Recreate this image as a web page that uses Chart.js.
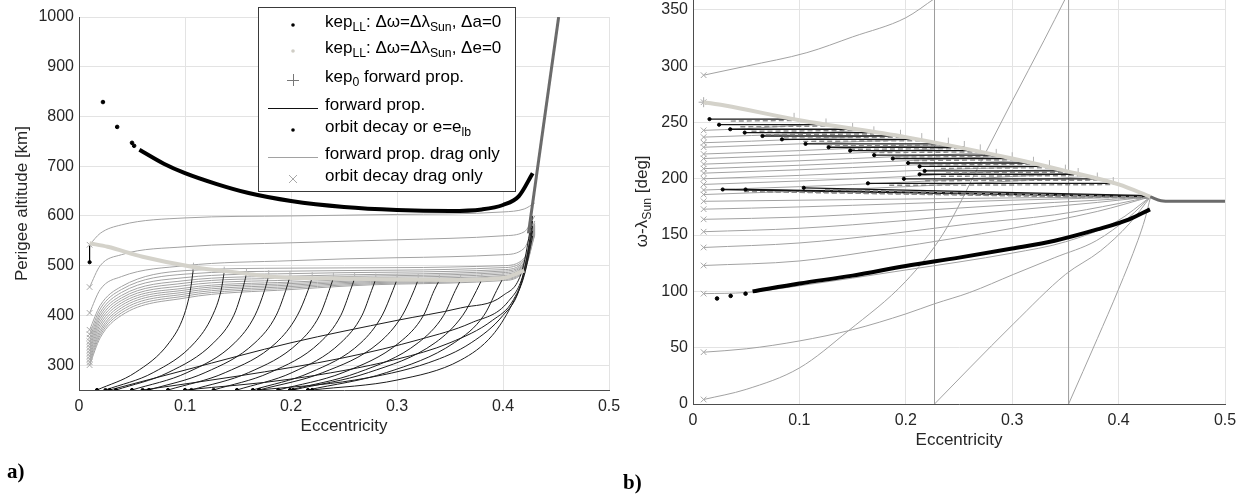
<!DOCTYPE html>
<html>
<head>
<meta charset="utf-8">
<script src="https://cdn.jsdelivr.net/npm/chart.js@4.4.0/dist/chart.umd.min.js"></script>
<style>
  body { margin: 0; background: #fff; width: 1249px; height: 498px; overflow: hidden; position: relative; }
  #chartA { position: absolute; left: 0; top: 0; }
  #chartB { position: absolute; left: 610px; top: -16px; }
  .tag { position: absolute; font: bold 21px "Liberation Serif", "DejaVu Serif", serif; line-height: 21px; color: #000; }
</style>
</head>
<body>
<canvas id="chartA" width="630" height="498"></canvas>
<canvas id="chartB" width="639" height="514"></canvas>
<div class="tag" style="left:7px; top:461px">a)</div>
<div class="tag" style="left:623px; top:472px">b)</div>
<script>
// ---------- shared ticks ----------
const eccTicks = [0, 0.1, 0.2, 0.3, 0.4, 0.5];
const altTicks = [300, 400, 500, 600, 700, 800, 900, 1000];
const angTicks = [0, 50, 100, 150, 200, 250, 300, 350];

// ---------- panel a) perigee altitude ----------
// kep_LL with da=0 (black): a few isolated points, then a dense run
const llaDotE = [0.0226, 0.036, 0.05, 0.052];
const llaDotH = [829, 779, 747, 741];
const llaE = [0.057, 0.08, 0.1, 0.13, 0.16, 0.2, 0.25, 0.3, 0.35, 0.38, 0.4, 0.415, 0.428];
const llaH = [733, 705, 686, 664, 646, 630, 618, 612, 610, 613, 622, 640, 686];

// kep_LL with de=0 (light grey)
const lleE = [0.01, 0.027, 0.06, 0.109, 0.154, 0.185, 0.25, 0.3, 0.35, 0.4, 0.42];
const lleH = [545, 538, 518, 497, 485, 477, 474, 472, 471, 475, 490];

// steep dark grey branch
const steepE = [0.424, 0.4525];
const steepH = [565, 1000];

// forward prop. drag only, sampled on a common eccentricity grid
const dragE = [0.01, 0.02, 0.04, 0.1, 0.2, 0.3, 0.4, 0.42, 0.43];
const dragH = [
  [542, 565, 582, 596, 600, 603, 608, 614, 626],
  [457, 500, 522, 538, 546, 552, 560, 568, 600],
  [405, 452, 478, 500, 510, 516, 522, 535, 590],
  [371, 420, 458, 490, 495, 496, 500, 515, 585],
  [362, 413, 452, 483, 489, 491, 496, 512, 582],
  [355, 406, 446, 476, 484, 487, 492, 509, 580],
  [348, 400, 440, 470, 479, 483, 489, 506, 578],
  [342, 394, 435, 465, 475, 480, 486, 504, 576],
  [336, 388, 430, 460, 471, 477, 483, 502, 574],
  [330, 382, 425, 455, 467, 474, 480, 500, 572],
  [324, 376, 420, 451, 464, 471, 478, 498, 570],
  [318, 370, 415, 447, 461, 469, 476, 496, 568],
  [312, 365, 410, 443, 458, 467, 474, 494, 566],
  [306, 360, 405, 439, 455, 465, 472, 492, 564],
  [300, 355, 400, 435, 452, 463, 470, 490, 562]
];

// forward prop. (black), S-shaped climbs ending on the kep_LL de=0 curve
const fwdCurves = [
  [[0.017, 250], [0.053, 285], [0.085, 345], [0.099, 400], [0.105, 450], [0.108, 495]],
  [[0.025, 250], [0.070, 285], [0.109, 345], [0.126, 400], [0.134, 450], [0.137, 487]],
  [[0.035, 250], [0.084, 285], [0.127, 345], [0.146, 400], [0.154, 450], [0.158, 483]],
  [[0.05, 250], [0.102, 285], [0.147, 345], [0.166, 400], [0.175, 450], [0.179, 480]],
  [[0.066, 250], [0.119, 285], [0.166, 345], [0.186, 400], [0.195, 450], [0.199, 478]],
  [[0.084, 250], [0.138, 285], [0.186, 345], [0.206, 400], [0.216, 450], [0.22, 476]],
  [[0.106, 250], [0.160, 285], [0.207, 345], [0.227, 400], [0.236, 450], [0.24, 475]],
  [[0.127, 250], [0.180, 285], [0.227, 345], [0.247, 400], [0.256, 450], [0.26, 474]],
  [[0.149, 250], [0.201, 285], [0.247, 345], [0.267, 400], [0.276, 450], [0.28, 473]],
  [[0.164, 250], [0.218, 285], [0.266, 345], [0.286, 400], [0.296, 450], [0.30, 472]],
  [[0.17, 250], [0.23, 285], [0.283, 345], [0.305, 400], [0.316, 450], [0.32, 472]],
  [[0.188, 250], [0.249, 285], [0.302, 345], [0.325, 400], [0.335, 450], [0.34, 471]],
  [[0.199, 250], [0.263, 285], [0.32, 345], [0.344, 400], [0.355, 450], [0.36, 471]],
  [[0.202, 250], [0.273, 285], [0.336, 345], [0.362, 400], [0.375, 450], [0.38, 472]],
  [[0.216, 250], [0.290, 285], [0.354, 345], [0.382, 400], [0.394, 450], [0.40, 475]]
];
// forward prop. (black), long shallow climbs into the steep branch
const diagCurves = [
  [[0.029, 250], [0.1, 290], [0.2, 345], [0.3, 390], [0.36, 415], [0.4, 440], [0.418, 490], [0.428, 600]],
  [[0.06, 250], [0.15, 278], [0.25, 315], [0.322, 352], [0.37, 385], [0.405, 428], [0.42, 490], [0.428, 590]],
  [[0.1, 250], [0.2, 272], [0.3, 312], [0.35, 345], [0.39, 390], [0.41, 432], [0.422, 500], [0.428, 580]],
  [[0.17, 250], [0.26, 270], [0.33, 305], [0.37, 345], [0.4, 400], [0.415, 450], [0.428, 570]],
  [[0.22, 250], [0.3, 270], [0.36, 310], [0.39, 360], [0.408, 420], [0.42, 480], [0.428, 560]]
];
const shortDrop = [[0.01, 540], [0.01, 507]];

// ---------- panel b) omega - lambda_sun ----------
// start values of the drag-only arcs (all at e = 0.01)
const arcStartE = 0.01;
const arcStartD = [292, 268, 243, 237, 232, 228, 222, 218, 213, 209, 205, 200, 195, 190, 186, 180, 173, 164, 153, 139, 123, 98, 46, 4];
const rArcs = [
  [[0.01, 292], [0.05, 300], [0.107, 312], [0.15, 326], [0.2, 343], [0.227, 360]],
  [[0.227, 0], [0.26, 32], [0.301, 71], [0.35, 115], [0.383, 136], [0.41, 160], [0.43, 184]],
  [[0.01, 4], [0.05, 13], [0.1, 32], [0.146, 65], [0.2, 109], [0.235, 151], [0.27, 214], [0.3, 269], [0.33, 323], [0.35, 360]],
  [[0.353, 0], [0.38, 58], [0.4, 102], [0.418, 145], [0.425, 165], [0.43, 184]],
  [[0.01, 46], [0.05, 49], [0.1, 56], [0.15, 66], [0.2, 80], [0.227, 89], [0.26, 99], [0.301, 115], [0.34, 130], [0.379, 145], [0.41, 166], [0.43, 184]],
  [[0.01, 98], [0.05, 99], [0.1, 105], [0.2, 119], [0.3, 134], [0.35, 144], [0.398, 162], [0.43, 184]],
  [[0.01, 123], [0.1, 127], [0.184, 138], [0.3, 156], [0.38, 171], [0.43, 184]],
  [[0.01, 139], [0.1, 143], [0.184, 151], [0.26, 160], [0.34, 168], [0.4, 178], [0.43, 184]],
  [[0.01, 153], [0.1, 156], [0.2, 163], [0.3, 172], [0.38, 179], [0.43, 184]],
  [[0.01, 164], [0.1, 166], [0.2, 171], [0.3, 177], [0.38, 181], [0.43, 184]],
  [[0.01, 173], [0.1, 175], [0.2, 178], [0.3, 181], [0.43, 184]],
  [[0.01, 180], [0.15, 181.5], [0.3, 183], [0.43, 184]],
  [[0.01, 186], [0.1, 189], [0.2, 193], [0.3, 198], [0.37, 202]],
  [[0.01, 190], [0.1, 193], [0.2, 197], [0.3, 202], [0.36, 205]],
  [[0.01, 195], [0.1, 198], [0.2, 202], [0.3, 207], [0.345, 208]],
  [[0.01, 200], [0.1, 203], [0.2, 207], [0.33, 211]],
  [[0.01, 205], [0.1, 208], [0.2, 212], [0.31, 216]],
  [[0.01, 209], [0.1, 212], [0.2, 216], [0.29, 220]],
  [[0.01, 213], [0.1, 216], [0.2, 220], [0.275, 223]],
  [[0.01, 218], [0.1, 221], [0.2, 225], [0.25, 228]],
  [[0.01, 222], [0.1, 225], [0.2, 229], [0.24, 229.5]],
  [[0.01, 228], [0.1, 231], [0.21, 235]],
  [[0.01, 232], [0.1, 235], [0.185, 239]],
  [[0.01, 237], [0.1, 240], [0.16, 243]],
  [[0.01, 243], [0.05, 244.5], [0.12, 249]]
];
const wrapE = [0.227, 0.353];

// forward prop. (black): start dot -> end on the kep_LL de=0 curve
const rDotE = [0.0155, 0.0245, 0.035, 0.0486, 0.0653, 0.0836, 0.1058, 0.1275, 0.1477, 0.1703, 0.1878, 0.2022, 0.213, 0.2177, 0.213, 0.1982, 0.1644, 0.1041, 0.0494, 0.0279];
const rDotD = [253, 248, 244, 241, 238, 235, 231, 228, 225, 221, 218, 214, 211, 207, 204, 200, 196, 192, 190.5, 190.5];
const rEndE = [0.095, 0.125, 0.15, 0.17, 0.195, 0.215, 0.24, 0.255, 0.27, 0.285, 0.30, 0.32, 0.335, 0.35, 0.362, 0.38, 0.395, 0.43, 0.43, 0.43];
const rEndD = [253, 248, 244, 241, 238, 235, 231, 228, 225, 221, 218, 214, 211, 207, 204, 200, 196, 185, 184.5, 184];

// kep_LL de=0 (light grey) and da=0 (black)
const rEnvE = [0.01, 0.03, 0.1, 0.2, 0.3, 0.35, 0.4, 0.43];
const rEnvD = [268, 265, 252, 237, 218, 207, 195, 184];
const rLlaDotE = [0.0226, 0.0354, 0.0494];
const rLlaDotD = [93.7, 96, 98];
const rLlaE = [0.056, 0.1, 0.15, 0.2, 0.25, 0.3, 0.34, 0.38, 0.41, 0.4295];
const rLlaD = [100, 107, 114, 122.5, 130, 138, 145, 155, 164, 172.8];
const rTailE = [0.43, 0.44, 0.45, 0.5];
const rTailD = [184, 180.5, 180, 180];

// legend rows: [text, 's' for subscript]
const legendRows = [
  [['kep'], ['LL', 's'], [': \u0394\u03c9=\u0394\u03bb'], ['Sun', 's'], [', \u0394a=0']],
  [['kep'], ['LL', 's'], [': \u0394\u03c9=\u0394\u03bb'], ['Sun', 's'], [', \u0394e=0']],
  [['kep'], ['0', 's'], [' forward prop.']],
  [['forward prop.']],
  [['orbit decay or e=e'], ['lb', 's']],
  [['forward prop. drag only']],
  [['orbit decay drag only']]
];
const yLabelB = [['\u03c9-\u03bb'], ['Sun', 's'], [' [deg]']];

// ---------- helpers ----------
const FONT = '"Liberation Sans", Arial, sans-serif';
const INK = '#262626';
const zip = (es, vs) => es.map((e, i) => ({ x: e, y: vs[i] }));
const xy = pts => pts.map(p => ({ x: p[0], y: p[1] }));

function curve(data, color, width, order, extra) {
  return Object.assign({
    data: data, showLine: true, borderColor: color, borderWidth: width,
    pointRadius: 0, fill: false, order: order, cubicInterpolationMode: 'monotone'
  }, extra || {});
}
function marks(data, style, radius, color, order, extra) {
  return Object.assign({
    data: data, showLine: false, pointStyle: style, pointRadius: radius,
    borderColor: color, backgroundColor: color, borderWidth: 1, order: order
  }, extra || {});
}
const straight = { tension: 0, cubicInterpolationMode: 'default' };

function drawRich(ctx, x, y, parts, size) {
  let cx = x;
  parts.forEach(p => {
    const sub = p[1] === 's';
    const sz = sub ? size * 0.72 : size;
    ctx.font = sz + 'px ' + FONT;
    ctx.fillText(p[0], cx, sub ? y + size * 0.32 : y);
    cx += ctx.measureText(p[0]).width;
  });
  return cx - x;
}
function richWidth(ctx, parts, size) {
  let w = 0;
  parts.forEach(p => {
    ctx.font = (p[1] === 's' ? size * 0.72 : size) + 'px ' + FONT;
    w += ctx.measureText(p[0]).width;
  });
  return w;
}

function axes(yMin, yMax, yTicks, yWidth, yTitle, yTitlePad) {
  const tf = { family: FONT, size: 16 };
  const lf = { family: FONT, size: 17 };
  return {
    x: {
      type: 'linear', min: 0, max: 0.5,
      afterBuildTicks: s => { s.ticks = eccTicks.map(v => ({ value: v })); },
      afterFit: s => { s.height = 51; },
      grid: { color: '#e3e3e3', drawTicks: false },
      border: { color: '#4d4d4d', width: 1 },
      ticks: { font: tf, color: INK, padding: 7, maxRotation: 0, callback: v => String(v) },
      title: { display: true, text: 'Eccentricity', font: lf, color: INK, padding: { top: 4, bottom: 4 } }
    },
    y: {
      type: 'linear', min: yMin, max: yMax,
      afterBuildTicks: s => { s.ticks = yTicks.map(v => ({ value: v })); },
      afterFit: s => { s.width = yWidth; },
      grid: { color: '#e3e3e3', drawTicks: false },
      border: { color: '#4d4d4d', width: 1 },
      ticks: { font: tf, color: INK, padding: 5, callback: v => String(v) },
      title: { display: !!yTitle, text: yTitle, font: lf, color: INK, padding: { top: yTitlePad, bottom: 0 } }
    }
  };
}

// ---------- panel a) datasets ----------
const setsA = [];
dragH.forEach(row => setsA.push(curve(zip(dragE, row), '#a2a2a2', 1, 6)));
setsA.push(marks(dragH.map(row => ({ x: dragE[0], y: row[0] })), 'crossRot', 4, '#a8a8a8', 5));
fwdCurves.concat(diagCurves).forEach(c => setsA.push(curve(xy(c), '#1c1c1c', 1, 4)));
setsA.push(curve(zip(steepE, steepH), '#6b6b6b', 3, 3, straight));
setsA.push(curve(zip(lleE, lleH), '#d4d2ca', 4, 2));
setsA.push(marks(fwdCurves.map(c => ({ x: c[c.length - 1][0], y: c[c.length - 1][1] + 3 })), 'line', 4, '#b4b4b4', 2, { rotation: 90 }));
setsA.push(marks(fwdCurves.concat(diagCurves).map(c => ({ x: c[0][0], y: c[0][1] })), 'circle', 1.6, '#000', 1));
setsA.push(curve(xy(shortDrop), '#000', 1.2, 1, straight));
setsA.push(marks([{ x: shortDrop[1][0], y: shortDrop[1][1] }], 'circle', 1.6, '#000', 1));
setsA.push(curve(zip(llaE, llaH), '#000', 4, 0));
setsA.push(marks(zip(llaDotE, llaDotH), 'circle', 1.8, '#000', 0));

const legendA = {
  id: 'legendA',
  afterDraw(chart) {
    const ctx = chart.ctx;
    const rowsY = [25, 51, 80, 108, 130, 157, 179];
    ctx.save();
    ctx.fillStyle = '#fff';
    ctx.fillRect(258, 7, 257, 184);
    ctx.strokeStyle = '#3a3a3a';
    ctx.lineWidth = 1;
    ctx.strokeRect(258.5, 7.5, 257, 184);
    // markers
    const dot = (y, c) => { ctx.fillStyle = c; ctx.beginPath(); ctx.arc(293, y, 1.8, 0, Math.PI * 2); ctx.fill(); };
    dot(rowsY[0], '#000');
    dot(rowsY[1], '#cfcdc5');
    dot(rowsY[4], '#000');
    ctx.strokeStyle = '#777';
    ctx.beginPath(); ctx.moveTo(287, rowsY[2] + 0.5); ctx.lineTo(299, rowsY[2] + 0.5); ctx.moveTo(293.5, rowsY[2] - 6); ctx.lineTo(293.5, rowsY[2] + 6); ctx.stroke();
    ctx.strokeStyle = '#111';
    ctx.beginPath(); ctx.moveTo(268, rowsY[3] + 0.5); ctx.lineTo(318, rowsY[3] + 0.5); ctx.stroke();
    ctx.strokeStyle = '#a2a2a2';
    ctx.beginPath(); ctx.moveTo(268, rowsY[5] + 0.5); ctx.lineTo(318, rowsY[5] + 0.5); ctx.stroke();
    ctx.strokeStyle = '#a8a8a8';
    ctx.beginPath(); ctx.moveTo(289, rowsY[6] - 4); ctx.lineTo(297, rowsY[6] + 4); ctx.moveTo(297, rowsY[6] - 4); ctx.lineTo(289, rowsY[6] + 4); ctx.stroke();
    // labels
    ctx.fillStyle = '#000';
    ctx.textBaseline = 'middle';
    ctx.textAlign = 'left';
    legendRows.forEach((r, i) => drawRich(ctx, 325, rowsY[i] - 3, r, 17));
    ctx.restore();
  }
};

new Chart(document.getElementById('chartA'), {
  type: 'scatter',
  data: { datasets: setsA },
  options: {
    responsive: false, animation: false, events: [],
    layout: { padding: { top: 17, right: 21, bottom: 57, left: 0 } },
    plugins: { legend: { display: false }, tooltip: { enabled: false } },
    scales: axes(250, 1000, altTicks, 79, 'Perigee altitude [km]', 12)
  },
  plugins: [legendA]
});

// ---------- panel b) datasets ----------
const setsB = [];
rArcs.forEach(c => setsB.push(curve(xy(c), '#a2a2a2', 1, 6)));
wrapE.forEach(e => setsB.push(curve([{ x: e, y: 0 }, { x: e, y: 360 }], '#9c9c9c', 1, 6, straight)));
setsB.push(marks(arcStartD.map(d => ({ x: arcStartE, y: d })), 'crossRot', 4, '#a8a8a8', 5));
rDotE.forEach((e, i) => {
  setsB.push(curve([{ x: e, y: rDotD[i] }, { x: rEndE[i], y: rEndD[i] }], '#151515', 1.3, 4, straight));
  setsB.push(curve([{ x: e + 0.02, y: rDotD[i] - 1.8 }, { x: rEndE[i], y: rEndD[i] - 1.2 }], '#8c8c8c', 1.4, 4, Object.assign({ borderDash: [5, 3] }, straight)));
});
setsB.push(curve(zip(rEnvE, rEnvD), '#d4d2ca', 4, 2));
setsB.push(marks(rEndE.slice(0, 17).map((e, i) => ({ x: e, y: rEndD[i] + 2 })), 'line', 4, '#b4b4b4', 2, { rotation: 90 }));
setsB.push(marks(zip(rDotE, rDotD), 'circle', 1.6, '#000', 1));
setsB.push(curve(zip(rTailE, rTailD), '#6b6b6b', 3, 1));
setsB.push(curve(zip(rLlaE, rLlaD), '#000', 4, 0));
setsB.push(marks(zip(rLlaDotE, rLlaDotD), 'circle', 1.8, '#000', 0));
setsB.push(marks([{ x: arcStartE, y: 268 }], 'cross', 5, '#a8a8a8', 5));

const labelB = {
  id: 'labelB',
  afterDraw(chart) {
    const ctx = chart.ctx;
    ctx.save();
    ctx.translate(32, (chart.chartArea.top + chart.chartArea.bottom) / 2);
    ctx.rotate(-Math.PI / 2);
    ctx.fillStyle = INK;
    ctx.textBaseline = 'middle';
    ctx.textAlign = 'left';
    const w = richWidth(ctx, yLabelB, 17);
    drawRich(ctx, -w / 2, 0, yLabelB, 17);
    ctx.restore();
  }
};

new Chart(document.getElementById('chartB'), {
  type: 'scatter',
  data: { datasets: setsB },
  options: {
    responsive: false, animation: false, events: [],
    layout: { padding: { top: 12, right: 24, bottom: 43, left: 0 } },
    plugins: { legend: { display: false }, tooltip: { enabled: false } },
    scales: axes(0, 360, angTicks, 83, '', 0)
  },
  plugins: [labelB]
});
</script>
</body>
</html>
